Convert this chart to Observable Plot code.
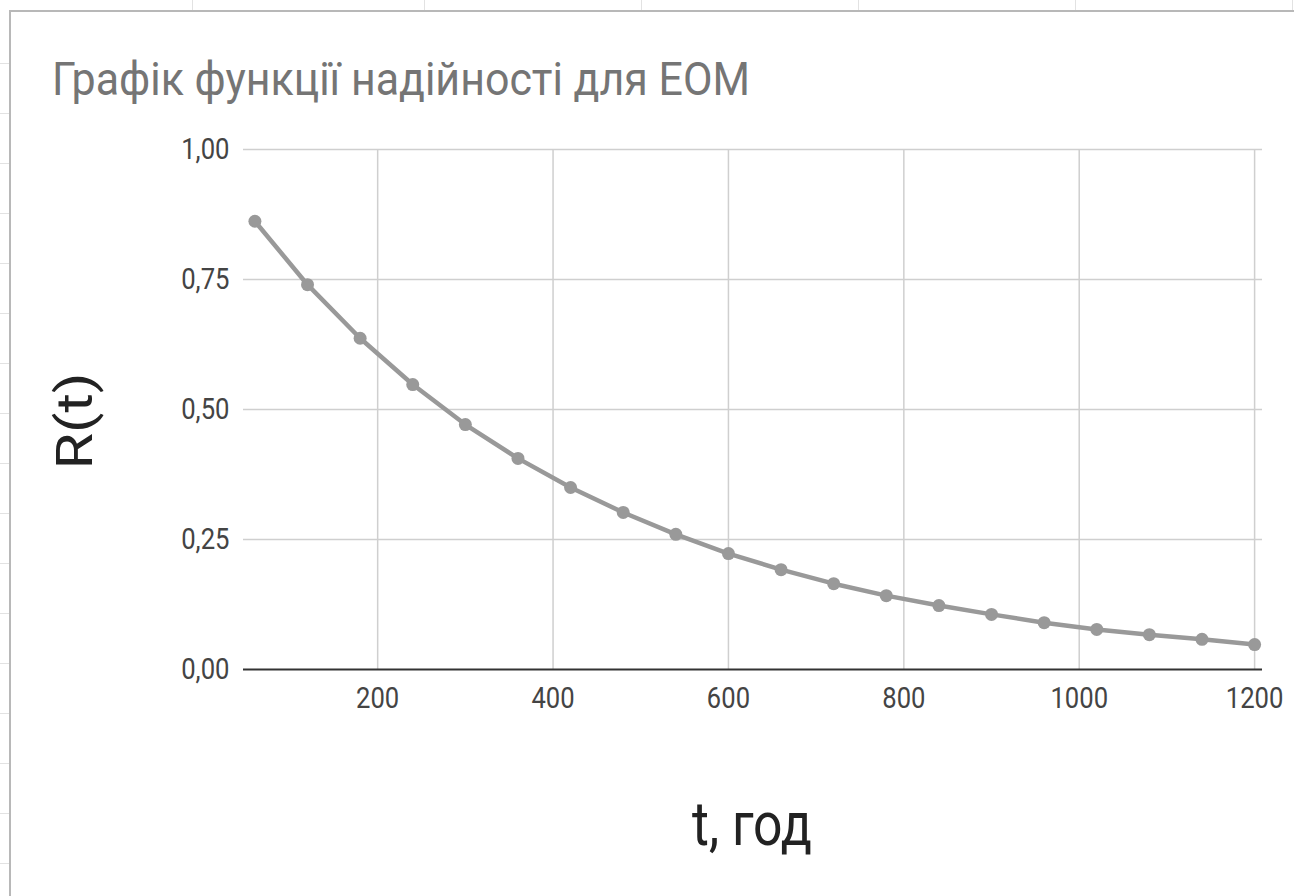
<!DOCTYPE html>
<html>
<head>
<meta charset="utf-8">
<script src="https://cdn.jsdelivr.net/npm/d3@7"></script>
<script src="https://cdn.jsdelivr.net/npm/@observablehq/plot@0.6"></script>
<style>
  html, body { margin: 0; padding: 0; background: #fff; width: 1294px; height: 896px; overflow: hidden; }
  .vg { position: absolute; top: 0; width: 1px; height: 10px; background: #e2e2e2; }
  .hg { position: absolute; left: 0; width: 9px; height: 1px; background: #e2e2e2; }
  #frame { position: absolute; left: 9px; top: 10px; width: 1285px; height: 886px;
           border-top: 2px solid #b8b8b8; border-left: 2px solid #b8b8b8; background: #fff; }
  #chart { position: absolute; left: 0; top: 0; }
</style>
</head>
<body>
<div id="bg"></div>
<div id="frame"><div id="chart"></div></div>
<script>
// ---- data ----
const tHours = [60, 120, 180, 240, 300, 360, 420, 480, 540, 600, 660, 720, 780, 840, 900, 960, 1020, 1080, 1140, 1200];
const reliability = [0.862, 0.740, 0.637, 0.548, 0.471, 0.406, 0.350, 0.302, 0.260, 0.223, 0.192, 0.165, 0.142, 0.123, 0.106, 0.090, 0.077, 0.067, 0.058, 0.048];
const xTicks = [200, 400, 600, 800, 1000, 1200];
const yTicks = [0, 0.25, 0.5, 0.75, 1];
const titleText = "Графік функції надійності для ЕОМ";
const xLabel = "t, год";
const yLabel = "R(t)";

// spreadsheet cell grid behind the chart (decoration)
const bg = document.getElementById("bg");
[192, 424, 641, 858, 1075, 1292].forEach(x => {
  const d = document.createElement("div"); d.className = "vg"; d.style.left = x + "px"; bg.appendChild(d);
});
for (let y = 63; y < 896; y += 50) {
  const d = document.createElement("div"); d.className = "hg"; d.style.top = y + "px"; bg.appendChild(d);
}

const data = tHours.map((t, i) => ({t, r: reliability[i]}));
const W = 1283, H = 884;
const fmt = d => d.toFixed(2).replace(".", ",");

const plot = Plot.plot({
  width: W, height: H,
  marginLeft: 232, marginRight: 32, marginTop: 137, marginBottom: 227,
  style: {fontFamily: "Roboto", fontSize: "30px", color: "#444", background: "transparent", overflow: "visible"},
  x: {domain: [47, 1209], ticks: xTicks, tickSize: 0, tickPadding: 17, label: null, tickFormat: d => String(d)},
  y: {domain: [0, 1], ticks: yTicks, tickSize: 0, tickPadding: 14, label: null, tickFormat: fmt},
  marks: [
    Plot.ruleY(yTicks.filter(d => d > 0), {stroke: "#cfcfcf", strokeWidth: 1.5}),
    Plot.ruleX(xTicks, {stroke: "#cfcfcf", strokeWidth: 1.5}),
    Plot.ruleY([0], {stroke: "#333", strokeWidth: 2}),
    Plot.line(data, {x: "t", y: "r", stroke: "#999", strokeWidth: 4.5}),
    Plot.dot(data, {x: "t", y: "r", r: 6.5, fill: "#999", stroke: "none"})
  ]
});
document.getElementById("chart").appendChild(plot);

// compress tick labels horizontally (reference text is vertically stretched)
const svg = d3.select(plot);
svg.selectAll("text").each(function() {
  const len = this.getComputedTextLength();
  this.setAttribute("textLength", (len / 1.17).toFixed(1));
  this.setAttribute("lengthAdjust", "spacingAndGlyphs");
});

const ox = 11, oy = 12;
svg.append("text")
  .attr("x", 52 - ox).attr("y", 95 - oy)
  .attr("text-anchor", "start")
  .attr("font-family", "Roboto").attr("font-size", 46)
  .attr("fill", "#757575")
  .attr("textLength", 698).attr("lengthAdjust", "spacingAndGlyphs")
  .text(titleText);

svg.append("text")
  .attr("x", 752 - ox).attr("y", 845 - oy)
  .attr("text-anchor", "middle")
  .attr("font-family", "Roboto").attr("font-size", 61)
  .attr("fill", "#222")
  .attr("textLength", 120).attr("lengthAdjust", "spacingAndGlyphs")
  .text(xLabel);

svg.append("text")
  .attr("transform", `translate(${92 - ox},${421 - oy}) rotate(-90)`)
  .attr("text-anchor", "middle")
  .attr("font-family", "Roboto").attr("font-size", 50)
  .attr("fill", "#222")
  .attr("textLength", 97).attr("lengthAdjust", "spacingAndGlyphs")
  .text(yLabel);
</script>
</body>
</html>
